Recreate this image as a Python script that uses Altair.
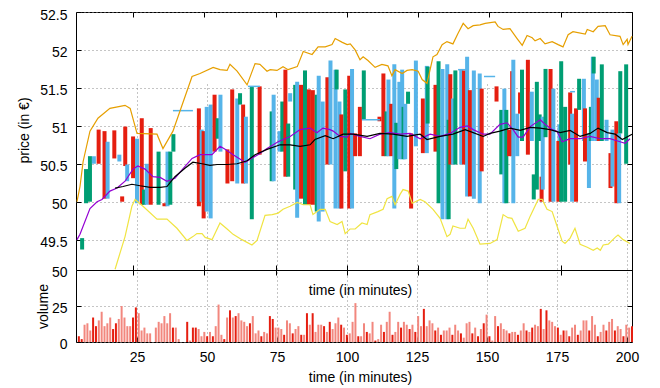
import altair as alt
import pandas as pd

FONT = "Liberation Sans"
RED, GREEN, BLUE = "#e51e10", "#009e73", "#56b4e9"
ORANGE, YELLOW, PURPLE, BLACK = "#e69f00", "#f0e442", "#9400d3", "#000000"

# ---------------- candle boxes (minute, box bottom, box top, colour class) ----
box_t = [5.4, 6.8, 8.2, 9.6, 11.3, 13.4, 14.5, 16.9, 18.7, 19.7, 20.8, 21.5, 23.6, 25.0, 26.7,
         27.5, 28.5, 29.9, 32.7, 34.8, 35.9, 36.9, 38.0, 47.1, 48.1, 48.8, 49.9, 51.3, 52.7,
         53.8, 54.8, 57.3, 59.0, 60.8, 61.8, 62.9, 63.9, 66.0, 68.8, 73.1, 73.8, 75.9, 76.9,
         78.0, 79.0, 79.7, 81.5, 82.2, 83.6, 85.0, 86.4, 87.8, 89.2, 89.9, 91.3, 93.0, 94.1,
         95.9, 96.3, 97.3, 98.0, 99.4, 100.8, 101.8, 102.9, 104.6, 106.0, 111.6, 113.0, 114.1,
         114.8, 115.8, 116.9, 117.6, 118.7, 119.7, 120.2, 120.8, 121.8, 122.9, 124.6, 127.1,
         128.5, 128.8, 131.6, 132.7, 134.1, 135.8, 136.3, 136.9, 137.9, 138.7, 140.8, 141.8,
         142.9, 143.9, 145.3, 147.4, 148.1, 153.4, 155.1, 156.2, 156.9, 157.9, 159.0, 159.4,
         160.8, 161.8, 162.5, 164.6, 166.0, 166.7, 167.8, 168.8, 169.5, 169.9, 170.9, 172.7,
         173.7, 175.5, 175.9, 176.5, 177.9, 179.7, 180.4, 181.8, 182.9, 184.6, 185.0, 186.4,
         187.1, 187.8, 188.1, 189.2, 189.9, 191.0, 192.7, 194.1, 194.8, 196.2, 197.2, 197.6, 199.7]
box_lo = [49.37, 49.98, 50.00, 50.50, 50.50, 50.04, 50.04, 50.57, 50.53, 50.00, 50.47, 50.27, 50.31,
          49.98, 49.96, 49.96, 49.96, 49.96, 49.96, 49.94, 49.94, 49.96, 50.66, 49.94, 50.00,
          49.78, 49.87, 49.78, 50.66, 50.83, 50.66, 50.24, 50.27, 50.24, 51.28, 50.24, 50.24,
          49.77, 50.62, 50.27, 50.27, 50.66, 50.66, 50.33, 50.33, 51.32, 50.16, 49.79, 50.04,
          49.96, 49.96, 49.96, 49.87, 49.74, 49.87, 50.49, 50.49, 49.91, 51.48, 49.91, 49.91,
          50.40, 49.91, 49.91, 50.60, 50.60, 51.08, 51.06, 50.60, 50.60, 50.60, 50.60, 49.91,
          50.43, 50.56, 50.56, 50.56, 50.56, 51.29, 49.91, 50.73, 50.64, 50.64, 51.03, 50.66,
          49.98, 49.77, 49.77, 49.77, 50.49, 50.49, 50.49, 50.49, 50.49, 50.07, 50.07, 50.04,
          49.98, 50.40, 51.32, 50.36, 49.98, 49.98, 50.60, 50.60, 49.98, 50.60, 51.16, 50.80,
          50.62, 50.80, 50.03, 50.16, 50.80, 50.00, 50.16, 50.85, 50.00, 50.00, 50.00, 50.80,
          50.00, 50.00, 50.49, 50.00, 50.00, 51.21, 50.80, 50.53, 50.18, 50.80, 50.80, 51.69,
          50.80, 50.80, 50.80, 50.80, 50.18, 50.20, 49.98, 49.98, 50.90, 50.50]
box_hi = [49.52, 50.43, 50.60, 50.60, 50.95, 50.93, 50.79, 50.94, 50.62, 50.07, 50.99, 50.49, 50.86,
          50.83, 51.10, 50.16, 50.50, 50.97, 50.66, 49.98, 50.66, 50.66, 50.89, 51.23, 50.95,
          50.93, 51.25, 51.28, 51.41, 51.10, 51.41, 50.69, 51.48, 51.36, 51.43, 51.28, 51.12,
          51.52, 51.52, 51.19, 51.41, 50.93, 51.32, 51.74, 51.03, 51.43, 51.54, 51.58, 51.54,
          51.73, 51.48, 51.47, 51.41, 51.66, 51.32, 51.64, 51.86, 51.74, 51.74, 51.32, 51.15,
          51.48, 51.66, 51.75, 50.90, 51.25, 51.73, 51.12, 51.69, 51.19, 51.61, 51.29, 51.81,
          51.04, 51.58, 51.74, 51.25, 51.29, 51.45, 50.90, 51.86, 51.36, 51.79, 51.78, 51.54,
          51.85, 51.75, 51.81, 51.08, 51.68, 51.36, 51.73, 51.74, 51.73, 51.91, 51.47, 51.73,
          51.69, 51.49, 51.52, 51.21, 51.49, 51.21, 50.95, 51.72, 51.87, 51.16, 51.44, 51.74,
          51.87, 51.45, 50.36, 51.58, 51.15, 50.33, 51.12, 51.75, 51.75, 51.49, 50.80, 51.02,
          51.85, 51.25, 51.44, 51.16, 51.23, 51.62, 51.62, 51.23, 50.90, 51.25, 51.91, 51.91,
          51.61, 51.37, 51.81, 51.08, 50.64, 50.95, 51.06, 50.90, 51.72, 51.81]
box_c = ["G", "G", "G", "B", "R", "R", "B", "R", "B", "R", "R", "B", "R", "B", "R",
         "G", "B", "R", "G", "R", "B", "G", "G", "R", "B", "R", "B", "B", "R",
         "G", "B", "R", "R", "B", "G", "R", "B", "G", "R", "G", "B", "B", "G",
         "R", "G", "B", "G", "B", "R", "G", "R", "R", "G", "B", "B", "R", "B",
         "B", "G", "B", "R", "G", "R", "B", "R", "R", "G", "R", "R", "G",
         "B", "R", "B", "G", "B", "B", "G", "B", "G", "R", "B", "R",
         "B", "G", "R", "G", "B", "B", "G", "R", "B", "G", "B", "R",
         "B", "R", "B", "B", "R", "R", "G", "B", "G", "R", "R", "B",
         "B", "R", "G", "R", "B", "G", "G", "G", "R", "B", "G", "R",
         "B", "R", "B", "G", "G", "R", "B", "R", "G", "B", "R", "B",
         "G", "B", "G", "B", "R", "G", "B", "R", "B", "R", "B", "G", "G"]

# flat (open == close) segments
flat_t0 = [39.0, 65.3, 105.3, 139.0, 148.1, 178.3]
flat_t1 = [46.0, 69.5, 111.6, 142.2, 152.0, 180.0]
flat_p = [51.20, 51.52, 51.08, 51.74, 51.65, 51.45]

# ---------------- lines ----------------
upper_t = [5.35, 6.4, 7.5, 9.9, 12.7, 16.9, 22.2, 24.0, 26.4, 33.4, 35.5, 39.0, 45.7, 48.5, 53.1,
           55.5, 58.0, 59.0, 61.5, 65.0, 67.8, 69.5, 72.0, 73.1, 75.5, 77.6, 79.4, 82.6, 84.7,
           87.8, 89.9, 92.4, 94.8, 95.9, 98.4, 100.1, 101.2, 102.9, 104.6, 105.7, 107.4, 109.9,
           112.3, 114.4, 115.8, 116.9, 119.4, 121.1, 122.9, 125.0, 126.4, 128.1, 130.2, 131.6,
           133.4, 135.1, 137.2, 139.0, 140.8, 142.5, 144.3, 146.7, 148.5, 152.0, 153.0, 154.8,
           157.2, 159.7, 161.5, 163.2, 165.0, 166.0, 167.8, 169.5, 172.0, 174.1, 175.8, 177.6,
           179.3, 183.6, 184.3, 186.4, 188.1, 190.6, 192.3, 195.8, 196.9, 198.3, 198.6, 200.0]
upper_p = [50.00, 50.20, 50.53, 50.93, 51.10, 51.23, 51.27, 51.23, 50.90, 50.89, 50.70, 50.93, 51.65,
           51.69, 51.77, 51.74, 51.73, 51.81, 51.72, 51.54, 51.82, 51.81, 51.72, 51.74, 51.73,
           51.78, 51.74, 51.78, 51.98, 51.94, 52.04, 52.04, 52.07, 52.15, 52.10, 52.07, 52.08,
           52.00, 51.87, 51.91, 51.86, 51.77, 51.81, 51.79, 51.66, 51.74, 51.69, 51.73, 51.74,
           51.72, 51.61, 51.56, 51.91, 51.94, 52.07, 52.11, 52.08, 52.22, 52.35, 52.28, 52.32,
           52.33, 52.35, 52.37, 52.31, 52.27, 52.28, 52.15, 52.06, 52.19, 52.16, 52.12, 52.15,
           52.08, 52.11, 52.07, 52.04, 52.20, 52.24, 52.21, 52.27, 52.24, 52.31, 52.32, 52.20,
           52.18, 52.07, 52.14, 52.07, 52.18]

lower_t = [18.7, 22.2, 24.6, 25.7, 28.5, 33.4, 36.9, 40.4, 43.9, 46.0, 47.4, 49.2, 50.3, 52.7, 55.5,
           58.0, 60.1, 63.2, 66.7, 68.5, 71.3, 73.8, 75.9, 77.6, 80.1, 82.6, 84.7, 87.1, 88.1,
           90.6, 92.4, 94.1, 96.6, 98.3, 99.4, 101.1, 102.9, 105.3, 107.1, 108.1, 110.9, 112.7,
           114.1, 115.8, 116.9, 118.7, 119.7, 121.5, 122.9, 125.7, 127.4, 130.2, 132.7, 135.1,
           136.2, 137.2, 139.7, 141.5, 142.5, 144.3, 146.7, 150.2, 152.7, 154.8, 156.5, 157.9,
           160.1, 162.5, 164.3, 167.1, 168.5, 170.2, 172.0, 173.7, 175.5, 176.5, 178.3, 180.0,
           181.8, 184.3, 186.4, 187.8, 188.9, 189.9, 191.7, 194.1, 195.1, 196.9, 199.3]
lower_p = [49.11, 49.54, 49.94, 50.03, 49.94, 49.77, 49.77, 49.65, 49.49, 49.54, 49.58, 49.58, 49.53,
           49.50, 49.72, 49.64, 49.57, 49.50, 49.43, 49.49, 49.82, 49.83, 49.85, 49.90, 49.94,
           49.99, 49.96, 49.96, 49.83, 49.90, 49.90, 49.74, 49.70, 49.74, 49.58, 49.64, 49.64,
           49.72, 49.70, 49.83, 49.87, 49.90, 50.04, 50.07, 49.96, 50.10, 50.16, 50.14, 49.98,
           50.03, 50.00, 49.90, 49.78, 49.54, 49.57, 49.68, 49.65, 49.65, 49.77, 49.65, 49.44,
           49.45, 49.50, 49.83, 49.79, 49.78, 49.61, 49.65, 49.81, 50.03, 50.03, 49.90, 49.87,
           49.68, 49.48, 49.45, 49.52, 49.65, 49.44, 49.40, 49.36, 49.39, 49.36, 49.43, 49.44,
           49.53, 49.56, 49.50, 49.45]

fast_t = [5.35, 6.4, 9.9, 12.4, 14.1, 16.9, 19.4, 22.2, 25.0, 26.7, 29.2, 32.0, 34.5, 36.9, 39.7,
          42.4, 45.7, 48.5, 52.7, 55.5, 57.3, 60.1, 64.3, 68.8, 72.0, 75.9, 80.1, 83.6, 87.1,
          89.5, 91.6, 94.1, 95.2, 97.6, 100.1, 101.1, 104.6, 108.1, 111.6, 115.2, 118.7, 122.2,
          125.7, 129.2, 132.7, 136.2, 139.7, 142.2, 144.3, 147.8, 150.2, 153.7, 156.2, 158.3,
          160.1, 161.8, 164.3, 167.8, 169.5, 172.0, 173.7, 175.5, 178.3, 181.8, 185.3, 188.9,
          192.3, 195.8, 197.6, 199.3]
fast_p = [49.50, 49.57, 49.91, 50.00, 50.03, 50.14, 50.18, 50.27, 50.43, 50.47, 50.43, 50.33, 50.32,
          50.27, 50.31, 50.43, 50.57, 50.62, 50.62, 50.73, 50.69, 50.62, 50.52, 50.62, 50.70,
          50.79, 50.86, 50.95, 50.97, 50.91, 50.97, 50.95, 50.93, 50.86, 50.85, 50.90, 50.86,
          50.83, 50.89, 50.91, 50.89, 50.90, 50.83, 50.89, 50.86, 50.90, 50.98, 51.00, 50.95,
          50.89, 50.89, 51.02, 51.04, 50.95, 50.85, 50.85, 50.99, 51.08, 51.02, 50.95, 50.93,
          50.79, 50.83, 50.83, 50.86, 50.83, 50.83, 50.79, 50.77, 50.83]

slow_t = [18.7, 21.5, 24.6, 27.5, 31.0, 34.5, 36.9, 39.7, 43.2, 46.0, 49.2, 52.0, 54.5, 58.0, 61.5,
          65.0, 67.8, 72.0, 76.6, 80.1, 83.6, 87.1, 88.8, 92.4, 95.2, 98.7, 102.2, 107.1, 111.6,
          116.2, 121.1, 125.7, 128.1, 132.7, 137.2, 141.5, 144.3, 147.8, 150.2, 153.7, 157.2,
          160.8, 164.3, 167.8, 171.3, 174.8, 178.3, 181.8, 185.3, 188.1, 191.3, 194.1, 196.6, 200.0]
slow_p = [50.18, 50.20, 50.23, 50.21, 50.19, 50.19, 50.20, 50.33, 50.44, 50.52, 50.50, 50.48, 50.49,
          50.49, 50.50, 50.54, 50.62, 50.69, 50.75, 50.75, 50.73, 50.75, 50.82, 50.87, 50.83,
          50.89, 50.89, 50.86, 50.90, 50.89, 50.86, 50.89, 50.82, 50.86, 50.89, 50.95, 50.91,
          50.86, 50.90, 50.93, 50.97, 50.94, 50.98, 50.97, 50.95, 50.91, 50.94, 50.86, 50.90,
          50.97, 50.91, 50.89, 50.82, 50.89]

# ---------------- volume ----------------
vol_t = list(range(6, 32)) + list(range(33, 42)) + list(range(44, 201))
vol_v = [4, 2, 12, 13, 8, 17, 11, 15, 21, 11, 13, 17, 9, 13, 16, 25, 17, 11, 11, 17, 24, 20, 8, 10,
         6, 6,
         10, 14, 13, 18, 13, 20, 10, 10, 2,
         14, 1, 10, 10, 9, 4, 7, 4, 7, 4, 11, 26, 5, 2, 17, 22, 17, 18, 20, 15, 14, 11, 13, 18, 6,
         8, 4, 7, 6, 18, 16, 10, 10, 9, 5, 15, 13, 6, 9, 11, 5, 5, 20, 12, 20, 7, 12, 12, 11, 7, 14,
         9, 13, 17, 12, 10, 5, 6, 14, 27, 4, 4, 13, 7, 6, 14, 1, 2, 12, 7, 14, 21, 5, 7, 14, 10,
         14, 12, 9, 12, 7, 18, 11, 23, 11, 15, 13, 8, 10, 5, 8, 8, 10, 5, 12, 8, 6, 3, 13, 14, 6,
         10, 4, 9, 13, 19, 4, 1, 18, 11, 13, 9, 8, 6, 7, 7, 5, 8, 13, 8, 7, 10, 12, 11, 23, 9, 22,
         15, 14, 11, 10, 5, 8, 8, 4, 10, 12, 5, 8, 15, 15, 8, 18, 12, 4, 7, 12, 8, 14, 16, 8, 11,
         9, 4, 12, 10, 11]
vol_dark = [6, 7, 11, 12, 18, 19, 25, 26, 39, 44, 46, 47, 51, 53, 57, 59, 61, 66, 70, 73, 74, 78,
            81, 84, 86, 88, 92, 94, 98, 100, 104, 107, 110, 113, 116, 119, 122, 124, 127, 131,
            133, 137, 140, 144, 146, 148, 150, 153, 157, 160, 163, 165, 168, 170, 174, 176, 178,
            181, 185, 188, 191, 194, 197, 200]

# ---------------- tables ----------------
boxes = pd.DataFrame({"t": box_t, "lo": box_lo, "hi": box_hi, "c": box_c})
flats = pd.DataFrame({"t0": flat_t0, "t1": flat_t1, "p": flat_p})
lines = pd.concat([
    pd.DataFrame({"t": upper_t, "p": upper_p, "s": "upper"}),
    pd.DataFrame({"t": lower_t, "p": lower_p, "s": "lower"}),
    pd.DataFrame({"t": fast_t, "p": fast_p, "s": "fast"}),
    pd.DataFrame({"t": slow_t, "p": slow_p, "s": "slow"}),
], ignore_index=True)
vol = pd.DataFrame({"t": vol_t, "v": vol_v, "base": 0,
                    "k": ["dark" if t in vol_dark else "light" for t in vol_t]})

# ---------------- geometry ----------------
W, H, PH = 556, 330, 258
ticks_x = [25, 50, 75, 100, 125, 150, 175, 200]
ticks_p = [49.5, 50, 50.5, 51, 51.5, 52, 52.5]

def xs():
    return alt.Scale(domain=[5, 200], nice=False, zero=False)

def ps():
    return alt.Scale(domain=[49.1, 52.5], range=[PH, 0], nice=False, zero=False)

def vs():
    return alt.Scale(domain=[0, 50], range=[H, PH], nice=False, zero=False)

GRID = dict(grid=True, gridColor="#8a8a8a", gridDash=[1, 3], gridWidth=1)
TICK = dict(tickColor="black", tickWidth=1, tickSize=5, domain=False)

x_main = alt.Axis(orient="bottom", values=ticks_x, offset=-5, labelPadding=8, labelFlush=False,
                  title="time (in minutes)", titlePadding=6, titleX=284, **GRID, **TICK)
x_mid = alt.Axis(orient="bottom", values=ticks_x, offset=-(H - PH), labels=False, grid=False,
                 tickColor="black", tickSize=5, domain=True, domainColor="black",
                 title="time (in minutes)", titlePadding=8, titleX=284)
x_mid_up = alt.Axis(orient="bottom", values=ticks_x, offset=-(H - PH) - 5, labels=False,
                    grid=False, title=None, **TICK)
x_top = alt.Axis(orient="top", values=ticks_x, offset=-5, labels=False, grid=False,
                 title=None, **TICK)

y_price = alt.Axis(orient="left", values=ticks_p, format="~g", offset=-5, labelPadding=9,
                   labelOffset=3, labelFlush=False, title="price (in €)", titlePadding=8,
                   titleY=118, **GRID, **TICK)
y_price_r = alt.Axis(orient="right", values=ticks_p, offset=-5, labels=False, grid=False,
                     title=None, **TICK)
y_vol = alt.Axis(orient="left", values=[0, 25, 50], offset=-5, labelPadding=9, labelOffset=2,
                 labelFlush=False, title="volume", titlePadding=1, **GRID, **TICK)
y_vol_r = alt.Axis(orient="right", values=[25], offset=-5, labels=False, grid=False,
                   title=None, **TICK)

candles = alt.Chart(boxes).mark_bar(size=4).encode(
    x=alt.X("t:Q", scale=xs(), axis=x_main),
    y=alt.Y("lo:Q", scale=ps(), axis=y_price),
    y2="hi:Q",
    color=alt.Color("c:N", scale=alt.Scale(domain=["R", "G", "B"], range=[RED, GREEN, BLUE]),
                    legend=None),
)

flat = alt.Chart(flats).mark_rule(color=BLUE, strokeWidth=1.5).encode(
    x=alt.X("t0:Q", scale=xs(), axis=None),
    x2="t1:Q",
    y=alt.Y("p:Q", scale=ps(), axis=None),
)

line_layer = alt.Chart(lines).mark_line(strokeWidth=1.2).encode(
    x=alt.X("t:Q", scale=xs(), axis=x_mid),
    y=alt.Y("p:Q", scale=ps(), axis=y_price_r),
    color=alt.Color("s:N", scale=alt.Scale(domain=["upper", "lower", "fast", "slow"],
                                           range=[ORANGE, YELLOW, PURPLE, BLACK]), legend=None),
    detail="s:N",
)

volume = alt.Chart(vol).mark_rule(strokeWidth=2).encode(
    x=alt.X("t:Q", scale=xs(), axis=x_mid_up),
    y=alt.Y("base:Q", scale=vs(), axis=y_vol),
    y2="v:Q",
    color=alt.Color("k:N", scale=alt.Scale(domain=["dark", "light"], range=[RED, "#f2877e"]),
                    legend=None),
)

mirror = alt.Chart(vol).mark_point(opacity=0).encode(
    x=alt.X("t:Q", scale=xs(), axis=x_top),
    y=alt.Y("v:Q", scale=vs(), axis=y_vol_r),
)

chart = alt.layer(candles, flat, line_layer, volume, mirror).resolve_scale(
    x="independent", y="independent", color="independent"
).properties(
    width=W, height=H,
    autosize=alt.AutoSizeParams(type="none"),
    padding={"left": 68, "top": 4, "right": 12, "bottom": 44},
).configure_view(
    stroke="black", strokeWidth=1
).configure_axis(
    labelFont=FONT, titleFont=FONT, labelFontSize=14, titleFontSize=14,
    titleFontWeight="normal", labelColor="black", titleColor="black",
)

chart.save("out.html", embed_options={"renderer": "svg", "actions": False})
